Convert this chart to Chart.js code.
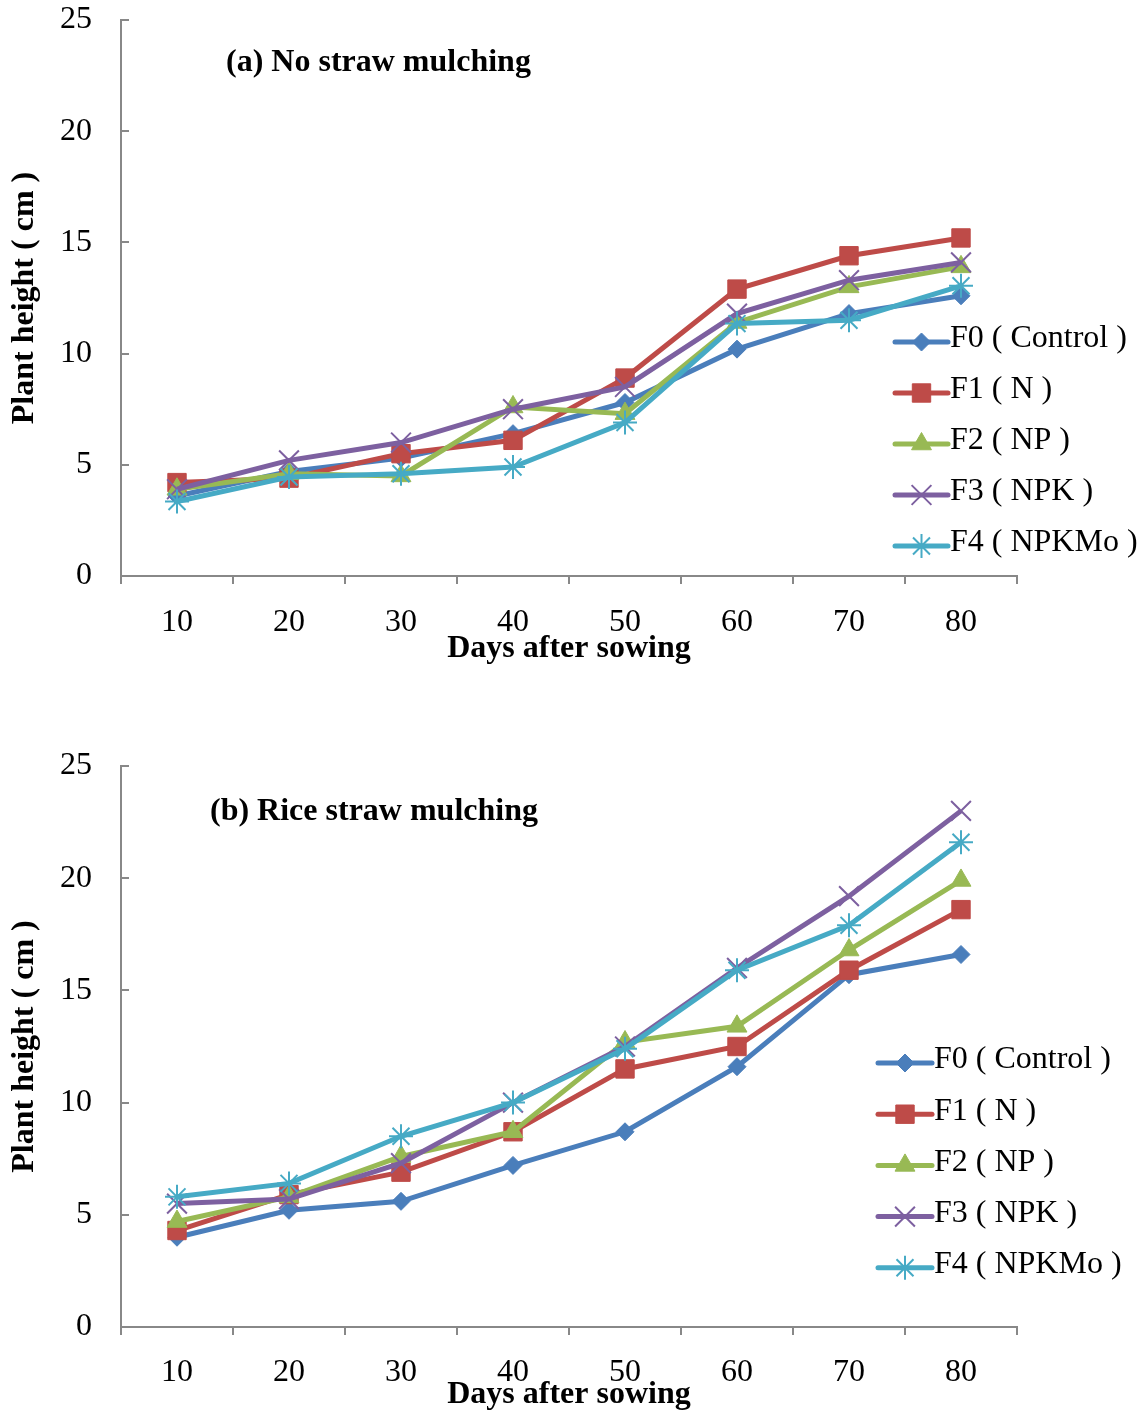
<!DOCTYPE html>
<html>
<head>
<meta charset="utf-8">
<script src="https://cdn.jsdelivr.net/npm/chart.js@4.4.0/dist/chart.umd.min.js"></script>
<style>
  body { margin: 0; background: #fff; }
  #wrap { position: relative; width: 1147px; height: 1412px; }
  canvas { position: absolute; left: 0; }
</style>
</head>
<body>
<div id="wrap">
  <canvas id="panelA" width="1147" height="706" style="top:0"></canvas>
  <canvas id="panelB" width="1147" height="706" style="top:706px"></canvas>
</div>
<script>
// sampling days (x categories)
const days = ["10", "20", "30", "40", "50", "60", "70", "80"];
const treatments = ["F0 ( Control )", "F1 ( N )", "F2 ( NP )", "F3 ( NPK )", "F4 ( NPKMo )"];
const yTicks = [0, 5, 10, 15, 20, 25];

// plant height (cm), no straw mulching
const noMulchF0 = [3.6, 4.7, 5.3, 6.4, 7.8, 10.2, 11.8, 12.6];
const noMulchF1 = [4.2, 4.4, 5.5, 6.1, 8.9, 12.9, 14.4, 15.2];
const noMulchF2 = [3.9, 4.6, 4.5, 7.6, 7.3, 11.4, 13.0, 13.9];
const noMulchF3 = [3.9, 5.2, 6.0, 7.5, 8.5, 11.8, 13.3, 14.1];
const noMulchF4 = [3.35, 4.45, 4.6, 4.9, 6.9, 11.35, 11.5, 13.05];

// plant height (cm), rice straw mulching
const mulchF0 = [4.0, 5.2, 5.6, 7.2, 8.7, 11.6, 15.7, 16.6];
const mulchF1 = [4.3, 5.9, 6.9, 8.7, 11.5, 12.5, 15.9, 18.6];
const mulchF2 = [4.7, 5.8, 7.6, 8.7, 12.7, 13.4, 16.8, 19.9];
const mulchF3 = [5.5, 5.7, 7.3, 10.0, 12.5, 16.0, 19.2, 23.0];
const mulchF4 = [5.8, 6.4, 8.5, 10.0, 12.4, 15.9, 17.9, 21.6];

const SERIF = "'Liberation Serif', 'Times New Roman', serif";
const AXIS_GREY = "#888888";
const FONT_SIZE = 32;
const LINE_W = 5;

// Excel-like series styles
const styles = [
  { color: "#4a7ebb", point: "rectRot",  radius: 9,  pw: 1 },
  { color: "#be4b48", point: "rect",     radius: 13, pw: 1 },
  { color: "#98b954", point: "triangle", radius: 11.5, pw: 1 },
  { color: "#7d60a0", point: "crossRot", radius: 14, pw: 2 },
  { color: "#46aac5", point: "star",     radius: 12, pw: 2 }
];

function buildDatasets(seriesList) {
  return seriesList.map((vals, i) => ({
    label: treatments[i],
    data: vals,
    borderColor: styles[i].color,
    backgroundColor: styles[i].color,
    borderWidth: LINE_W,
    pointStyle: styles[i].point,
    pointRadius: styles[i].radius,
    pointBorderWidth: styles[i].pw,
    pointBackgroundColor: styles[i].color,
    pointBorderColor: styles[i].color,
    tension: 0,
    clip: false,
    order: 4 - i   // last series drawn on top
  }));
}

// markers drawn for the legend rows
function drawMarker(ctx, st, x, y) {
  ctx.save();
  ctx.fillStyle = st.color;
  ctx.strokeStyle = st.color;
  ctx.lineWidth = st.pw;
  if (Chart.helpers && Chart.helpers.drawPoint) {
    Chart.helpers.drawPoint(ctx, { pointStyle: st.point, radius: st.radius, rotation: 0, borderWidth: st.pw }, x, y);
  }
  ctx.restore();
}

const panelDecor = {
  id: "panelDecor",
  afterDraw(chart, args, opts) {
    const ctx = chart.ctx;
    const area = chart.chartArea;
    const ys = chart.scales.y;

    // inward tick marks on the value axis
    ctx.save();
    ctx.strokeStyle = AXIS_GREY;
    ctx.lineWidth = 2;
    ys.ticks.forEach(t => {
      const py = Math.round(ys.getPixelForValue(t.value));
      ctx.beginPath();
      ctx.moveTo(area.left, py);
      ctx.lineTo(area.left + 8, py);
      ctx.stroke();
    });
    ctx.restore();

    // panel caption
    ctx.save();
    ctx.fillStyle = "#000";
    ctx.font = "bold " + FONT_SIZE + "px " + SERIF;
    ctx.textBaseline = "middle";
    ctx.textAlign = "left";
    ctx.fillText(opts.caption, opts.capX, opts.capY);
    ctx.restore();

    // legend
    const lg = opts.legend;
    chart.data.datasets.forEach((ds, i) => {
      const st = styles[i];
      const y = lg.y0 + lg.step * i;
      ctx.save();
      ctx.strokeStyle = st.color;
      ctx.lineWidth = LINE_W;
      ctx.lineCap = "round";
      ctx.beginPath();
      ctx.moveTo(lg.x0, y);
      ctx.lineTo(lg.x1, y);
      ctx.stroke();
      ctx.restore();
      drawMarker(ctx, st, (lg.x0 + lg.x1) / 2, y);
      ctx.save();
      ctx.fillStyle = "#000";
      ctx.font = FONT_SIZE + "px " + SERIF;
      ctx.textBaseline = "middle";
      ctx.textAlign = "left";
      ctx.fillText(ds.label, lg.x1 + 2, y - 3);
      ctx.restore();
    });
  }
};

function makePanel(id, seriesList, p) {
  return new Chart(document.getElementById(id), {
    type: "line",
    data: { labels: days, datasets: buildDatasets(seriesList) },
    plugins: [panelDecor],
    options: {
      responsive: false,
      animation: false,
      events: [],
      layout: { padding: { top: p.top, right: 130, bottom: 0, left: 0 } },
      plugins: {
        legend: { display: false },
        tooltip: { enabled: false },
        panelDecor: { caption: p.caption, capX: p.capX, capY: p.capY, legend: p.legend }
      },
      scales: {
        x: {
          type: "category",
          offset: true,
          grid: { offset: true, drawOnChartArea: false, drawTicks: true, tickLength: 8, color: AXIS_GREY, lineWidth: 2 },
          border: { color: AXIS_GREY, width: 2 },
          ticks: { color: "#000", font: { family: SERIF, size: FONT_SIZE }, padding: p.xTickPad, maxRotation: 0 },
          title: {
            display: true, text: "Days after sowing", color: "#000",
            font: { family: SERIF, size: FONT_SIZE, weight: "bold", lineHeight: 1 },
            padding: { top: 0, bottom: p.xTitlePad }
          },
          afterFit(s) { s.height = p.xAxisHeight; s.paddingLeft = 0; s.paddingRight = 0; }
        },
        y: {
          min: 0, max: 25,
          afterBuildTicks(s) { s.ticks = yTicks.map(v => ({ value: v })); },
          grid: { display: false, drawTicks: false },
          border: { color: AXIS_GREY, width: 2 },
          ticks: { color: "#000", font: { family: SERIF, size: FONT_SIZE }, padding: 29 },
          title: {
            display: true, text: "Plant height ( cm )", color: "#000",
            font: { family: SERIF, size: FONT_SIZE, weight: "bold", lineHeight: 1 },
            padding: { top: 9, bottom: 0 }
          },
          afterFit(s) { s.width = 121; s.paddingTop = 0; s.paddingBottom = 0; }
        }
      }
    }
  });
}

makePanel("panelA", [noMulchF0, noMulchF1, noMulchF2, noMulchF3, noMulchF4], {
  top: 20, xAxisHeight: 130, xTickPad: 19, xTitlePad: 41,
  caption: "(a) No straw mulching", capX: 226, capY: 63,
  legend: { x0: 895, x1: 948, y0: 342, step: 51 }
});

makePanel("panelB", [mulchF0, mulchF1, mulchF2, mulchF3, mulchF4], {
  top: 60, xAxisHeight: 85, xTickPad: 18, xTitlePad: 1,
  caption: "(b) Rice straw mulching", capX: 210, capY: 106,
  legend: { x0: 878, x1: 932, y0: 357, step: 51.2 }
});
</script>
</body>
</html>
